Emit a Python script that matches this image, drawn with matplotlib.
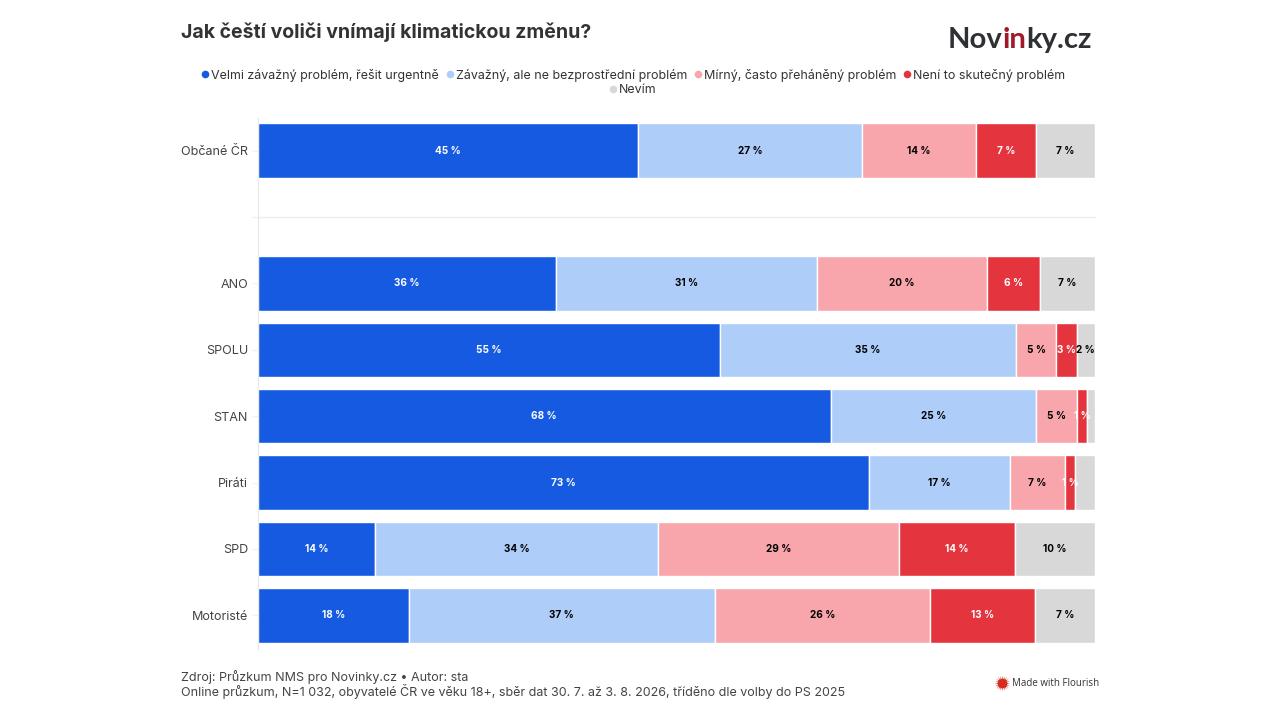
import matplotlib
matplotlib.use("Agg")
import matplotlib.pyplot as plt
import numpy as np

plt.rcParams['font.family'] = ['Inter', 'DejaVu Sans']

# Hodnoty
rows = ["Občané ČR", "ANO", "SPOLU", "STAN", "Piráti", "SPD", "Motoristé"]
row_positions = [0, 2, 3, 4, 5, 6, 7]
series_names = ["Velmi závažný problém, řešit urgentně", "Závažný, ale ne bezprostřední problém",
                "Mírný, často přeháněný problém", "Není to skutečný problém", "Nevím"]
velmi = [45.4, 35.6, 55.2, 68.4, 73.0, 14.0, 18.0]
zavazny = [26.8, 31.2, 35.4, 24.6, 16.8, 33.8, 36.6]
mirny = [13.6, 20.3, 4.8, 4.9, 6.6, 28.8, 25.7]
neni = [7.1, 6.3, 2.4, 1.1, 1.2, 13.8, 12.5]
nevim = [7.1, 6.6, 2.2, 1.0, 2.4, 9.6, 7.2]

velmi_labels = ["45 %", "36 %", "55 %", "68 %", "73 %", "14 %", "18 %"]
zavazny_labels = ["27 %", "31 %", "35 %", "25 %", "17 %", "34 %", "37 %"]
mirny_labels = ["14 %", "20 %", "5 %", "5 %", "7 %", "29 %", "26 %"]
neni_labels = ["7 %", "6 %", "3 %", "1 %", "1 %", "14 %", "13 %"]
nevim_labels = ["7 %", "7 %", "2 %", "", "", "10 %", "7 %"]

colors = ["#155ae0", "#aecdf8", "#f8a6ab", "#e4353f", "#d8d8d8"]
label_colors = ["white", "black", "black", "white", "black"]

W, H = 1280, 720
fig = plt.figure(figsize=(W / 100, H / 100), dpi=100)

# Hlavní osa: 0-100 % odpovídá pixelům 258-1095
ax = fig.add_axes([258 / W, 1 - 648.5 / H, 837 / W, 531 / H])
ax.set_xlim(0, 100)
ax.set_ylim(7.5, -0.5)

left = np.zeros(len(rows))
all_values = [velmi, zavazny, mirny, neni, nevim]
all_labels = [velmi_labels, zavazny_labels, mirny_labels, neni_labels, nevim_labels]
containers = []
for values, color in zip(all_values, colors):
    bars = ax.barh(row_positions, values, left=left, height=0.82, color=color,
                   edgecolor="white", linewidth=1.0, zorder=2)
    containers.append(bars)
    left = left + np.array(values)
for bars, labels, lc in zip(containers, all_labels, label_colors):
    ax.bar_label(bars, labels=labels, label_type="center", color=lc, fontsize=7.2,
                 fontweight="bold", zorder=5)

ax.axhline(1, color="#eeeeee", linewidth=1, zorder=1, clip_on=False)
ax.set_yticks(row_positions + [1])
ax.set_yticklabels(rows + [""], fontsize=9.05, color="#444444")
ax.tick_params(axis="y", length=4.3, width=1, color="#f2f2f2", pad=2.9)
ax.set_xticks([])
for side in ["top", "right", "bottom"]:
    ax.spines[side].set_visible(False)
ax.spines["left"].set_color("#e8e8e8")

# Překryvná vrstva v pixelech pro texty mimo graf
over = fig.add_axes([0, 0, 1, 1], zorder=10)
over.set_xlim(0, W)
over.set_ylim(H, 0)
over.axis("off")

over.text(181, 32, "Jak čeští voliči vnímají klimatickou změnu?", fontsize=14.03, fontweight="bold",
          color="#333333", va="center", ha="left")

# Legenda
legend_x = [205, 450, 698, 907, 613]
legend_y = [74, 74, 74, 74, 89]
for name, color, x, y in zip(series_names, colors, legend_x, legend_y):
    over.scatter([x], [y], s=30, color=color, linewidths=0)
    over.text(x + 6, y + 1, name, fontsize=8.98, color="#333333", va="center", ha="left")

# Logo
renderer = fig.canvas.get_renderer()
logo_x = 948
for part, color in [("Nov", "#2f3033"), ("in", "#9e1b2c"), ("ky.cz", "#2f3033")]:
    t = over.text(logo_x, 48, part, fontsize=21.05, fontfamily="Lato", fontweight="bold",
                  color=color, va="baseline", ha="left")
    logo_x = t.get_window_extent(renderer).x1

# Zdroj
over.text(181, 676.5, "Zdroj: Průzkum NMS pro Novinky.cz • Autor: sta", fontsize=9.0, color="#444444",
          va="center", ha="left")
over.text(181, 691.5, "Online průzkum, N=1 032, obyvatelé ČR ve věku 18+, sběr dat 30. 7. až 3. 8. 2026, "
          "tříděno dle volby do PS 2025", fontsize=9.0, color="#444444", va="center", ha="left")

# Flourish
over.scatter([1001.5], [683], s=120, marker=(20, 1, 0), color="#d42a20", linewidths=0)
over.scatter([1001.5], [683], s=45, marker="o", color="#d42a20", linewidths=0)
over.text(1012, 683, "Made with Flourish", fontsize=7.07, fontfamily="Open Sans", color="#333333",
          va="center", ha="left")

fig.savefig("out.png", dpi=100)
